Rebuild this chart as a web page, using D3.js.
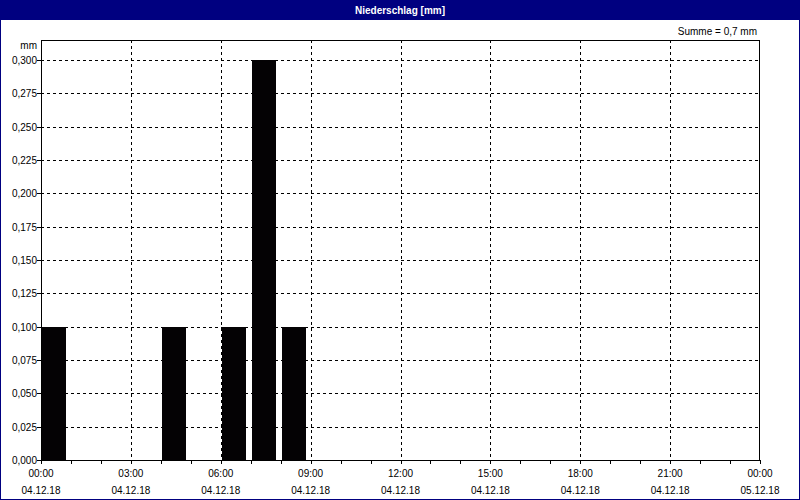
<!DOCTYPE html>
<html><head><meta charset="utf-8">
<script src="https://cdn.jsdelivr.net/npm/d3@7"></script>
<style>body{margin:0;background:#fff}svg{display:block}text{font-family:Tahoma,"Liberation Sans",sans-serif;font-size:10px}</style>
</head><body>
<script>
const hours = [0, 4, 6, 7, 8];
const values = [0.1, 0.1, 0.1, 0.3, 0.1];
const yTicks = [0, 0.025, 0.05, 0.075, 0.1, 0.125, 0.15, 0.175, 0.2, 0.225, 0.25, 0.275, 0.3];
const xTickHours = [0, 3, 6, 9, 12, 15, 18, 21, 24];
const xTimeLabels = ["00:00","03:00","06:00","09:00","12:00","15:00","18:00","21:00","00:00"];
const xDateLabels = ["04.12.18","04.12.18","04.12.18","04.12.18","04.12.18","04.12.18","04.12.18","04.12.18","05.12.18"];
const title = "Niederschlag [mm]";
const sumLabel = "Summe = 0,7 mm";

const W = 800, H = 500;
const L = 41, R = 760, T = 40, B = 460;
const svg = d3.select("body").append("svg").attr("width", W).attr("height", H);
svg.append("rect").attr("x",0.5).attr("y",0.5).attr("width",W-1).attr("height",H-1).attr("fill","#fff").attr("stroke","#000080");
svg.append("rect").attr("x",0).attr("y",0).attr("width",W).attr("height",20).attr("fill","#000080");
svg.append("text").attr("x",400).attr("y",14).attr("text-anchor","middle").attr("fill","#fff").attr("font-weight","bold").text(title);
svg.append("text").attr("x",757).attr("y",35).attr("text-anchor","end").attr("fill","#000").text(sumLabel);
svg.append("text").attr("x",37).attr("y",49).attr("text-anchor","end").attr("fill","#000").text("mm");

const x = d3.scaleLinear().domain([0,24]).range([L,R]);
const y = d3.scaleLinear().domain([0,0.3]).range([B,60]);
const fmt = v => d3.format(".3f")(v).replace(".", ",");

// grid
const g = svg.append("g");
g.selectAll("line.hy").data(yTicks.filter(v=>v>0)).join("line")
  .attr("x1",L).attr("x2",R).attr("y1",d=>Math.round(y(d))+0.5).attr("y2",d=>Math.round(y(d))+0.5)
  .attr("stroke","#000").attr("stroke-dasharray","3,3");
g.selectAll("line.vx").data(xTickHours.filter(h=>h>0&&h<24)).join("line")
  .attr("x1",d=>Math.round(x(d))+0.5).attr("x2",d=>Math.round(x(d))+0.5).attr("y1",T).attr("y2",B)
  .attr("stroke","#000").attr("stroke-dasharray","3,3");

// bars
svg.selectAll("rect.bar").data(hours).join("rect")
  .attr("x",(d)=>Math.round(x(d))+1)
  .attr("width",(d)=>Math.round(x(d+0.8)-x(d)))
  .attr("y",(d,i)=>Math.round(y(values[i])))
  .attr("height",(d,i)=>B-Math.round(y(values[i])))
  .attr("fill","#040204");

// frame
svg.append("rect").attr("x",L+0.5).attr("y",T+0.5).attr("width",R-L-1).attr("height",B-T).attr("fill","none").attr("stroke","#000");

// y axis labels
svg.selectAll("line.yt").data(yTicks).join("line")
  .attr("x1",L-4).attr("x2",L).attr("y1",d=>Math.round(y(d))+0.5).attr("y2",d=>Math.round(y(d))+0.5).attr("stroke","#000");
svg.selectAll("text.yl").data(yTicks).join("text")
  .attr("x",37).attr("y",d=>y(d)+4).attr("text-anchor","end").attr("fill","#000").text(fmt);

// x ticks
svg.selectAll("line.xt").data(d3.range(0,25)).join("line")
  .attr("x1",d=>Math.round(x(d))+0.5).attr("x2",d=>Math.round(x(d))+0.5).attr("y1",B).attr("y2",B+4).attr("stroke","#000");
svg.selectAll("text.xl").data(xTickHours).join("text")
  .attr("x",d=>x(d)).attr("y",477).attr("text-anchor","middle").attr("fill","#000").text((d,i)=>xTimeLabels[i]);
svg.selectAll("text.xd").data(xTickHours).join("text")
  .attr("x",d=>x(d)).attr("y",494).attr("text-anchor","middle").attr("fill","#000").text((d,i)=>xDateLabels[i]);
</script>
</body></html>
